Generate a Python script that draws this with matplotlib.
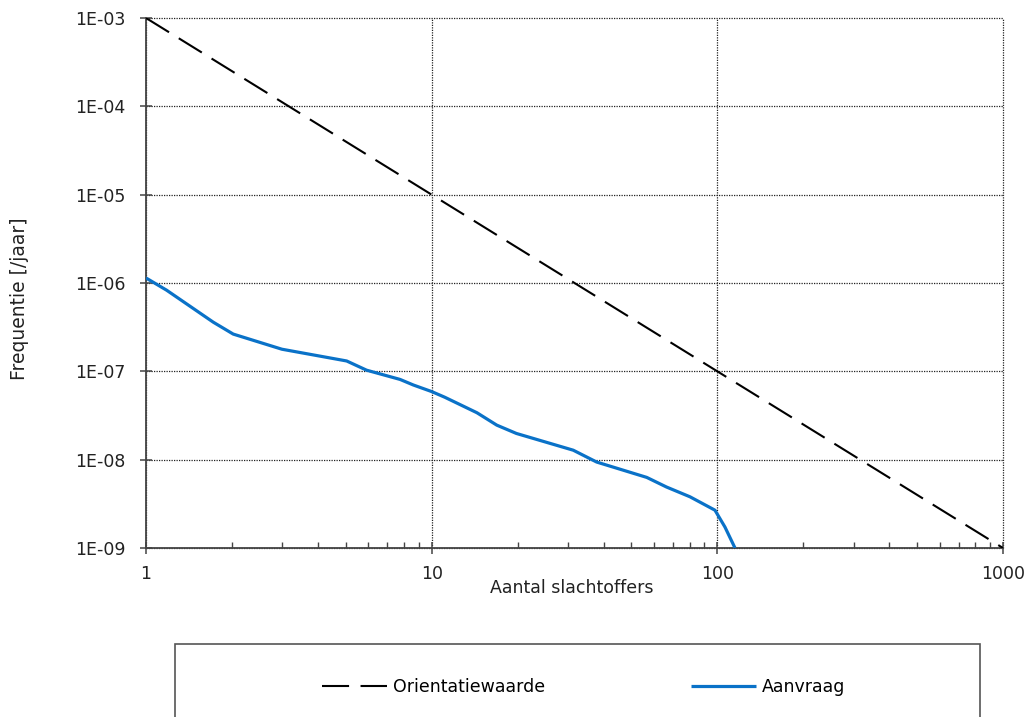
import matplotlib
matplotlib.use("Agg")
import matplotlib.pyplot as plt
from matplotlib.patches import Rectangle
from matplotlib.ticker import LogLocator, FixedLocator, NullFormatter

# ---- data ----
orient_x = [1, 1000]
orient_y = [1e-3, 1e-9]

aanvraag_x = [1, 1.18, 1.72, 2.02, 2.99, 5.04, 5.92, 7.75, 8.63, 10, 11.1, 14.4,
              16.9, 19.8, 31.3, 37.8, 56.6, 66.4, 80.2, 98.1, 106.3, 115.3]
aanvraag_y = [1.14e-6, 8.3e-7, 3.6e-7, 2.64e-7, 1.78e-7, 1.31e-7, 1.03e-7, 8.1e-8,
              7.0e-8, 5.9e-8, 5.1e-8, 3.4e-8, 2.46e-8, 1.98e-8, 1.28e-8, 9.4e-9,
              6.3e-9, 4.9e-9, 3.8e-9, 2.68e-9, 1.73e-9, 1.0e-9]

x_ticks = [1, 10, 100, 1000]
x_ticklabels = ["1", "10", "100", "1000"]
y_ticks = [1e-9, 1e-8, 1e-7, 1e-6, 1e-5, 1e-4, 1e-3]
y_ticklabels = ["1E-09", "1E-08", "1E-07", "1E-06", "1E-05", "1E-04", "1E-03"]

series_names = ["Orientatiewaarde", "Aanvraag"]
xlabel = "Aantal slachtoffers"
ylabel = "Frequentie [/jaar]"

# ---- figure ----
W, H = 1029, 717
fig = plt.figure(figsize=(W / 100, H / 100), dpi=100)
fig.patch.set_facecolor("white")
ax = fig.add_axes([146 / W, 1 - 548 / H, (1003 - 146) / W, (548 - 18) / H])

ax.set_xscale("log")
ax.set_yscale("log")
ax.set_xlim(1, 1000)
ax.set_ylim(1e-9, 1e-3)

l1, = ax.plot(orient_x, orient_y, color="black", lw=1.5, dashes=(13, 5.5),
              label=series_names[0], zorder=3)
l2, = ax.plot(aanvraag_x, aanvraag_y, color="#0A72C8", lw=2.3,
              label=series_names[1], zorder=4, solid_capstyle="butt")

ax.xaxis.set_major_locator(FixedLocator(x_ticks))
ax.set_xticklabels(x_ticklabels)
ax.xaxis.set_minor_locator(LogLocator(base=10, subs=range(2, 10)))
ax.xaxis.set_minor_formatter(NullFormatter())
ax.yaxis.set_major_locator(FixedLocator(y_ticks))
ax.set_yticklabels(y_ticklabels)
ax.yaxis.set_minor_locator(FixedLocator([]))

ax.grid(True, which="major", color="#222222", linestyle=(0, (1, 1)), lw=0.9)
ax.set_axisbelow(True)
for gl in ax.get_xgridlines() + ax.get_ygridlines():
    gl.set_clip_on(False)

for s in ["top", "right"]:
    ax.spines[s].set_visible(False)
for s in ["left", "bottom"]:
    ax.spines[s].set_color("#444444")
    ax.spines[s].set_linewidth(1.3)

ax.tick_params(axis="both", which="major", direction="inout", length=9,
               width=1.1, color="#444444", labelsize=12.5, labelcolor="#222222")
ax.tick_params(axis="x", which="major", pad=8)
ax.tick_params(axis="y", which="major", pad=10)
ax.tick_params(axis="x", which="minor", direction="in", length=4, width=1.0,
               color="#444444")

fig.text(572 / W, 1 - 588 / H, xlabel, ha="center", va="center",
         fontsize=12.5, color="#222222")
fig.text(20 / W, 1 - 299 / H, ylabel, ha="center", va="center",
         rotation=90, fontsize=13.5, color="#222222")

# legend box (bottom cut off by figure edge)
fig.patches.append(Rectangle((175 / W, -0.05), (980 - 175) / W, 0.05 + 1 - 644 / H,
                             transform=fig.transFigure, fill=False,
                             edgecolor="#555555", lw=1.2))
fig.legend(handles=[l1, l2], labels=series_names, loc="center left",
           bbox_to_anchor=(322 / W, 1 - 687 / H), ncol=2, frameon=False,
           fontsize=12.5, handlelength=3.74, handletextpad=0.35,
           columnspacing=8.4, borderpad=0, borderaxespad=0)

fig.savefig("out.png", dpi=100, facecolor="white")
